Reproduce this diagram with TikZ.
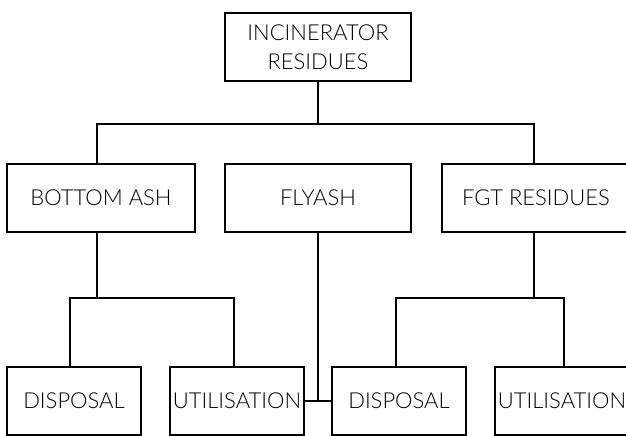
\documentclass[tikz,border=0pt]{standalone}
\usepackage{fontspec}
\setmainfont{Lato Light}
\usepackage{tikz}
\usetikzlibrary{calc,positioning}

\tikzset{
    wastebox/.style={draw=black, line width=2pt, inner sep=0pt, align=center,
        minimum height=68pt, font=\fontsize{22}{29}\selectfont},
    leafbox/.style={wastebox, minimum width=134pt},
    link/.style={line width=2pt}
}

\begin{document}
\begin{tikzpicture}[x=1pt, y=-1pt]
        \useasboundingbox (0,0) rectangle (626,436);

        % Top level
        \node[wastebox, minimum width=186pt] (top) at (318, 47) {INCINERATOR\\RESIDUES};

        % --- Second level ---
        \node[wastebox, minimum width=188pt] (bash) at (101, 198) {BOTTOM ASH};
        \node[wastebox, minimum width=186pt] (fly) at (318, 198) {FLYASH};
        \node[wastebox, minimum width=188pt] (fgt) at (536, 198) {FGT RESIDUES};

        % --- Third level ---
        \node[leafbox] (dis1) at (74, 401) {DISPOSAL};
        \node[leafbox] (uti1) at (237, 401) {UTILISATION};
        \node[leafbox] (dis2) at (399, 401) {DISPOSAL};
        \node[leafbox] (uti2) at (562, 401) {UTILISATION};

        % Junctions
        \coordinate (bus) at (318, 124);
        \coordinate (bj) at (97, 298);
        \coordinate (fj) at (534, 298);
        \coordinate (flyj) at (318, 401);

        % Connectors
        \draw[link] (top.south) -- (bus);
        \draw[link] ([xshift=-4pt]bash.north) |- (bus) -| ([xshift=-2pt]fgt.north);

        \draw[link] ([xshift=-4pt]bash.south) -- (bj);
        \draw[link] ([xshift=-4pt]dis1.north) |- (bj) -| ([xshift=-3pt]uti1.north);

        \draw[link] ([xshift=-2pt]fgt.south) -- (fj);
        \draw[link] ([xshift=-3pt]dis2.north) |- (fj) -| ([xshift=2pt]uti2.north);

        \draw[link] (fly.south) -- (flyj);
        \draw[link] (uti1.east) -- (dis2.west);
\end{tikzpicture}
\end{document}
